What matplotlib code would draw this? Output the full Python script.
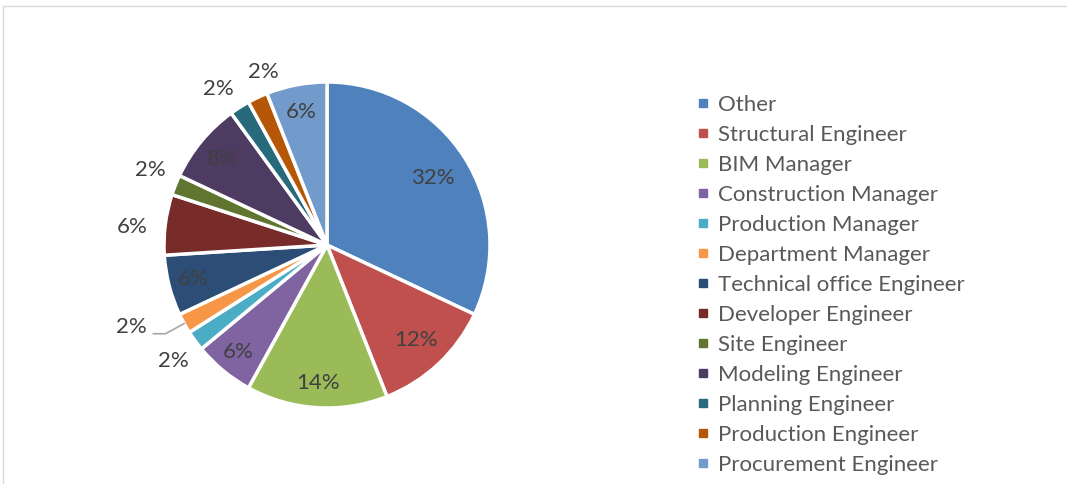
import matplotlib
matplotlib.use("Agg")
import matplotlib.pyplot as plt
from matplotlib.lines import Line2D
import numpy as np

categories = ["Other", "Structural Engineer", "BIM Manager", "Construction Manager",
              "Production Manager", "Department Manager", "Technical office Engineer",
              "Developer Engineer", "Site Engineer", "Modeling Engineer",
              "Planning Engineer", "Production Engineer", "Procurement Engineer"]
counts = [16, 6, 7, 3, 1, 1, 3, 3, 1, 4, 1, 1, 3]
colors = ["#4F81BD", "#C0504D", "#9BBB59", "#8064A2", "#4BACC6", "#F79646",
          "#2C4D75", "#772C2A", "#5F7530", "#4D3B62", "#276A7C", "#B65708", "#729ACA"]
# label radius (fraction of pie radius) and angular offset (deg) per slice
label_r = [0.77, 0.80, 0.85, 0.85, 1.18, 1.30, 0.85, 1.20, 1.18, 0.83, 1.17, 1.13, 0.83]
label_dang = [0, 0, 0, 0, 1, -6, 0, 2, -1.5, 0, 2.5, -5, 0]

W, H = 1067, 484
fig = plt.figure(figsize=(W / 100, H / 100), dpi=100)
fig.patch.set_facecolor("white")

FONT = ["Lato", "DejaVu Sans"]
TXT = "#404040"

cx, cy, R = 327, 245, 163
ax = fig.add_axes([(cx - R) / W, (H - cy - R) / H, 2 * R / W, 2 * R / H])
wedges, _ = ax.pie(counts, colors=colors, startangle=90, counterclock=False,
                   radius=1.0,
                   wedgeprops=dict(edgecolor="white", linewidth=2.5))
ax.set_xlim(-1, 1)
ax.set_ylim(-1, 1)
ax.set_aspect("equal")
ax.axis("off")

total = sum(counts)
for i, w in enumerate(wedges):
    mid = np.deg2rad((w.theta1 + w.theta2) / 2)
    ang = mid + np.deg2rad(label_dang[i])
    r = label_r[i]
    pct = f"{round(100 * counts[i] / total)}%"
    ax.text(r * np.cos(ang), r * np.sin(ang), pct, ha="center", va="center",
            fontsize=16, color=TXT, family=FONT, clip_on=False)
    if r > 1.25:
        x0, y0 = np.cos(mid), np.sin(mid)
        x1, y1 = 1.13 * np.cos(mid), 1.13 * np.sin(mid)
        x2 = x1 - 0.075
        ax.add_line(Line2D([x0, x1, x2], [y0, y1, y1], color="#A6A6A6",
                           lw=1.2, clip_on=False))

handles = [Line2D([0], [0], marker="s", linestyle="none", markersize=6,
                  markerfacecolor=c, markeredgecolor=c) for c in colors]
leg = fig.legend(handles, categories, loc="upper left",
                 bbox_to_anchor=(686 / W, 1 - 84 / H), frameon=False,
                 handlelength=0.5, handletextpad=0.45, labelspacing=0.45,
                 borderpad=0, prop={"family": FONT, "size": 16})
for t in leg.get_texts():
    t.set_color("#595959")

# chart frame
fig.add_artist(Line2D([3 / W, 1066 / W], [1 - 6 / H, 1 - 6 / H], color="#D9D9D9",
                      lw=1, transform=fig.transFigure))
fig.add_artist(Line2D([3 / W, 3 / W], [0, 1 - 6 / H], color="#D9D9D9",
                      lw=1, transform=fig.transFigure))

fig.savefig("out.png", dpi=100, facecolor="white")
